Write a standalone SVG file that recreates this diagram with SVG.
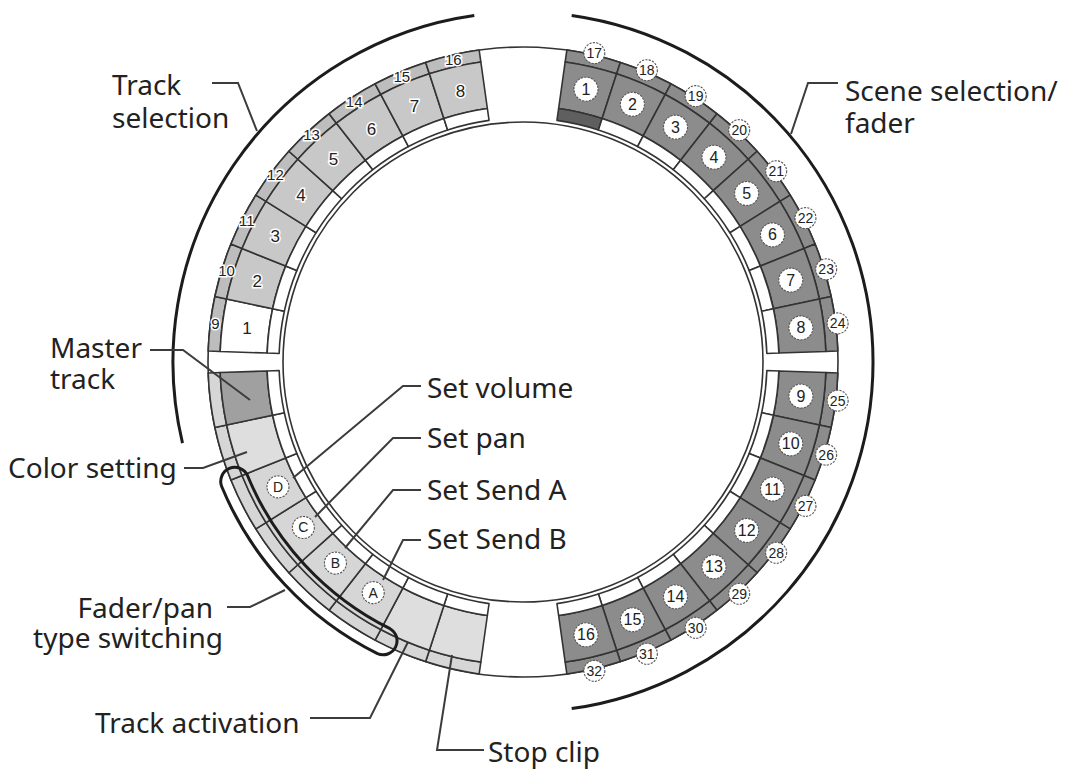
<svg xmlns="http://www.w3.org/2000/svg" xmlns:xlink="http://www.w3.org/1999/xlink" width="1070" height="771" viewBox="0 0 1070 771">
<style>
.pd{stroke:#333;stroke-width:1.6;stroke-linejoin:round}
.trk{fill:#c8c8c8}
.trs{fill:#bdbdbd}
.wh{fill:#fff}
.sc{fill:#8c8c8c}
.dk{fill:#5f5f5f}
.ms{fill:#a0a0a0}
.lt{fill:#d6d6d6}
.lt2{fill:#dedede}
.ln{fill:none;stroke:#333;stroke-width:1.6}
.brk{fill:none;stroke:#1c1c1c;stroke-width:3}
.lead{fill:none;stroke:#3c3c3c;stroke-width:2}
.cap{fill:none;stroke:#1c1c1c;stroke-width:3}
.lbl{font-family:"Noto Sans","Open Sans",sans-serif;font-size:28px;fill:#222}
.tn{font-family:"Liberation Sans",Arial,sans-serif;font-size:17px;fill:#222;text-anchor:middle;stroke:#fff;stroke-width:3;paint-order:stroke}
.tns{font-size:15px}
.cn{fill:#fff;stroke:#555;stroke-width:1.1;stroke-dasharray:2.2 1.2}
.ct{font-family:"Liberation Sans",Arial,sans-serif;font-size:16px;fill:#222;text-anchor:middle}
.cts{font-size:14px}
.cl{font-size:14px}
</style>
<defs>
<path id="padP" class="pd" d="M -26.41,-301.85 A 303 303 0 0 1 26.41,-301.85 L 22.31,-255.02 A 256 256 0 0 0 -22.31,-255.02 Z"/>
<path id="stripP" class="pd" d="M -27.45,-313.80 A 315 315 0 0 1 27.45,-313.80 L 26.41,-301.85 A 303 303 0 0 0 -26.41,-301.85 Z"/>
<path id="innerP" class="pd" d="M -22.31,-255.02 A 256 256 0 0 1 22.31,-255.02 L 21.27,-243.07 A 244 244 0 0 0 -21.27,-243.07 Z"/>
</defs>
<rect width="1070" height="771" fill="#fff"/>

<g id="ring-edges">
<circle cx="523" cy="362" r="315" class="ln"/>
<circle cx="523" cy="362" r="240" class="ln"/>
</g>

<!-- Scene pads -->
<g id="scene-1" transform="translate(523,362) rotate(13)"><use href="#stripP" class="sc"/><use href="#padP" class="sc"/><use href="#innerP" class="dk"/><g transform="translate(0,-280) rotate(-13)"><circle class="cn" r="12"/><text class="ct" y="5.5">1</text></g><g transform="translate(0,-317) rotate(-13)"><circle class="cn" r="10.5"/><text class="ct cts" y="5">17</text></g></g>
<g id="scene-2" transform="translate(523,362) rotate(23)"><use href="#stripP" class="sc"/><use href="#padP" class="sc"/><use href="#innerP" class="wh"/><g transform="translate(0,-280) rotate(-23)"><circle class="cn" r="12"/><text class="ct" y="5.5">2</text></g><g transform="translate(0,-317) rotate(-23)"><circle class="cn" r="10.5"/><text class="ct cts" y="5">18</text></g></g>
<g id="scene-3" transform="translate(523,362) rotate(33)"><use href="#stripP" class="sc"/><use href="#padP" class="sc"/><use href="#innerP" class="wh"/><g transform="translate(0,-280) rotate(-33)"><circle class="cn" r="12"/><text class="ct" y="5.5">3</text></g><g transform="translate(0,-317) rotate(-33)"><circle class="cn" r="10.5"/><text class="ct cts" y="5">19</text></g></g>
<g id="scene-4" transform="translate(523,362) rotate(43)"><use href="#stripP" class="sc"/><use href="#padP" class="sc"/><use href="#innerP" class="wh"/><g transform="translate(0,-280) rotate(-43)"><circle class="cn" r="12"/><text class="ct" y="5.5">4</text></g><g transform="translate(0,-317) rotate(-43)"><circle class="cn" r="10.5"/><text class="ct cts" y="5">20</text></g></g>
<g id="scene-5" transform="translate(523,362) rotate(53)"><use href="#stripP" class="sc"/><use href="#padP" class="sc"/><use href="#innerP" class="wh"/><g transform="translate(0,-280) rotate(-53)"><circle class="cn" r="12"/><text class="ct" y="5.5">5</text></g><g transform="translate(0,-317) rotate(-53)"><circle class="cn" r="10.5"/><text class="ct cts" y="5">21</text></g></g>
<g id="scene-6" transform="translate(523,362) rotate(63)"><use href="#stripP" class="sc"/><use href="#padP" class="sc"/><use href="#innerP" class="wh"/><g transform="translate(0,-280) rotate(-63)"><circle class="cn" r="12"/><text class="ct" y="5.5">6</text></g><g transform="translate(0,-317) rotate(-63)"><circle class="cn" r="10.5"/><text class="ct cts" y="5">22</text></g></g>
<g id="scene-7" transform="translate(523,362) rotate(73)"><use href="#stripP" class="sc"/><use href="#padP" class="sc"/><use href="#innerP" class="wh"/><g transform="translate(0,-280) rotate(-73)"><circle class="cn" r="12"/><text class="ct" y="5.5">7</text></g><g transform="translate(0,-317) rotate(-73)"><circle class="cn" r="10.5"/><text class="ct cts" y="5">23</text></g></g>
<g id="scene-8" transform="translate(523,362) rotate(83)"><use href="#stripP" class="sc"/><use href="#padP" class="sc"/><use href="#innerP" class="wh"/><g transform="translate(0,-280) rotate(-83)"><circle class="cn" r="12"/><text class="ct" y="5.5">8</text></g><g transform="translate(0,-317) rotate(-83)"><circle class="cn" r="10.5"/><text class="ct cts" y="5">24</text></g></g>
<g id="scene-9" transform="translate(523,362) rotate(97)"><use href="#stripP" class="sc"/><use href="#padP" class="sc"/><use href="#innerP" class="wh"/><g transform="translate(0,-280) rotate(-97)"><circle class="cn" r="12"/><text class="ct" y="5.5">9</text></g><g transform="translate(0,-317) rotate(-97)"><circle class="cn" r="10.5"/><text class="ct cts" y="5">25</text></g></g>
<g id="scene-10" transform="translate(523,362) rotate(107)"><use href="#stripP" class="sc"/><use href="#padP" class="sc"/><use href="#innerP" class="wh"/><g transform="translate(0,-280) rotate(-107)"><circle class="cn" r="12"/><text class="ct" y="5.5">10</text></g><g transform="translate(0,-317) rotate(-107)"><circle class="cn" r="10.5"/><text class="ct cts" y="5">26</text></g></g>
<g id="scene-11" transform="translate(523,362) rotate(117)"><use href="#stripP" class="sc"/><use href="#padP" class="sc"/><use href="#innerP" class="wh"/><g transform="translate(0,-280) rotate(-117)"><circle class="cn" r="12"/><text class="ct" y="5.5">11</text></g><g transform="translate(0,-317) rotate(-117)"><circle class="cn" r="10.5"/><text class="ct cts" y="5">27</text></g></g>
<g id="scene-12" transform="translate(523,362) rotate(127)"><use href="#stripP" class="sc"/><use href="#padP" class="sc"/><use href="#innerP" class="wh"/><g transform="translate(0,-280) rotate(-127)"><circle class="cn" r="12"/><text class="ct" y="5.5">12</text></g><g transform="translate(0,-317) rotate(-127)"><circle class="cn" r="10.5"/><text class="ct cts" y="5">28</text></g></g>
<g id="scene-13" transform="translate(523,362) rotate(137)"><use href="#stripP" class="sc"/><use href="#padP" class="sc"/><use href="#innerP" class="wh"/><g transform="translate(0,-280) rotate(-137)"><circle class="cn" r="12"/><text class="ct" y="5.5">13</text></g><g transform="translate(0,-317) rotate(-137)"><circle class="cn" r="10.5"/><text class="ct cts" y="5">29</text></g></g>
<g id="scene-14" transform="translate(523,362) rotate(147)"><use href="#stripP" class="sc"/><use href="#padP" class="sc"/><use href="#innerP" class="wh"/><g transform="translate(0,-280) rotate(-147)"><circle class="cn" r="12"/><text class="ct" y="5.5">14</text></g><g transform="translate(0,-317) rotate(-147)"><circle class="cn" r="10.5"/><text class="ct cts" y="5">30</text></g></g>
<g id="scene-15" transform="translate(523,362) rotate(157)"><use href="#stripP" class="sc"/><use href="#padP" class="sc"/><use href="#innerP" class="wh"/><g transform="translate(0,-280) rotate(-157)"><circle class="cn" r="12"/><text class="ct" y="5.5">15</text></g><g transform="translate(0,-317) rotate(-157)"><circle class="cn" r="10.5"/><text class="ct cts" y="5">31</text></g></g>
<g id="scene-16" transform="translate(523,362) rotate(167)"><use href="#stripP" class="sc"/><use href="#padP" class="sc"/><use href="#innerP" class="wh"/><g transform="translate(0,-280) rotate(-167)"><circle class="cn" r="12"/><text class="ct" y="5.5">16</text></g><g transform="translate(0,-317) rotate(-167)"><circle class="cn" r="10.5"/><text class="ct cts" y="5">32</text></g></g>

<!-- Lower-left function pads -->
<g id="stop-clip" transform="translate(523,362) rotate(193)"><use href="#stripP" class="lt"/><use href="#padP" class="lt2"/><use href="#innerP" class="wh"/></g>
<g id="track-activation" transform="translate(523,362) rotate(203)"><use href="#stripP" class="lt"/><use href="#padP" class="lt2"/><use href="#innerP" class="wh"/></g>
<g id="pad-A" transform="translate(523,362) rotate(213)"><use href="#stripP" class="lt"/><use href="#padP" class="lt"/><use href="#innerP" class="wh"/><g transform="translate(0,-275) rotate(-213)"><circle class="cn" r="11"/><text class="ct cl" y="5">A</text></g></g>
<g id="pad-B" transform="translate(523,362) rotate(223)"><use href="#stripP" class="lt"/><use href="#padP" class="lt"/><use href="#innerP" class="wh"/><g transform="translate(0,-275) rotate(-223)"><circle class="cn" r="11"/><text class="ct cl" y="5">B</text></g></g>
<g id="pad-C" transform="translate(523,362) rotate(233)"><use href="#stripP" class="lt"/><use href="#padP" class="lt"/><use href="#innerP" class="wh"/><g transform="translate(0,-275) rotate(-233)"><circle class="cn" r="11"/><text class="ct cl" y="5">C</text></g></g>
<g id="pad-D" transform="translate(523,362) rotate(243)"><use href="#stripP" class="lt"/><use href="#padP" class="lt"/><use href="#innerP" class="wh"/><g transform="translate(0,-275) rotate(-243)"><circle class="cn" r="11"/><text class="ct cl" y="5">D</text></g></g>
<g id="color-setting" transform="translate(523,362) rotate(253)"><use href="#stripP" class="lt"/><use href="#padP" class="lt2"/><use href="#innerP" class="wh"/></g>
<g id="master-track" transform="translate(523,362) rotate(263)"><use href="#stripP" class="lt"/><use href="#padP" class="ms"/><use href="#innerP" class="wh"/></g>

<!-- Track pads -->
<g id="track-1" transform="translate(523,362) rotate(277)"><use href="#stripP" class="trs"/><use href="#padP" class="wh"/><use href="#innerP" class="wh"/><g transform="translate(0,-278) rotate(-277)"><text class="tn" y="6">1</text></g><g transform="translate(0,-310) rotate(-277)"><text class="tn tns" y="5">9</text></g></g>
<g id="track-2" transform="translate(523,362) rotate(287)"><use href="#stripP" class="trs"/><use href="#padP" class="trk"/><use href="#innerP" class="wh"/><g transform="translate(0,-278) rotate(-287)"><text class="tn" y="6">2</text></g><g transform="translate(0,-310) rotate(-287)"><text class="tn tns" y="5">10</text></g></g>
<g id="track-3" transform="translate(523,362) rotate(297)"><use href="#stripP" class="trs"/><use href="#padP" class="trk"/><use href="#innerP" class="wh"/><g transform="translate(0,-278) rotate(-297)"><text class="tn" y="6">3</text></g><g transform="translate(0,-310) rotate(-297)"><text class="tn tns" y="5">11</text></g></g>
<g id="track-4" transform="translate(523,362) rotate(307)"><use href="#stripP" class="trs"/><use href="#padP" class="trk"/><use href="#innerP" class="wh"/><g transform="translate(0,-278) rotate(-307)"><text class="tn" y="6">4</text></g><g transform="translate(0,-310) rotate(-307)"><text class="tn tns" y="5">12</text></g></g>
<g id="track-5" transform="translate(523,362) rotate(317)"><use href="#stripP" class="trs"/><use href="#padP" class="trk"/><use href="#innerP" class="wh"/><g transform="translate(0,-278) rotate(-317)"><text class="tn" y="6">5</text></g><g transform="translate(0,-310) rotate(-317)"><text class="tn tns" y="5">13</text></g></g>
<g id="track-6" transform="translate(523,362) rotate(327)"><use href="#stripP" class="trs"/><use href="#padP" class="trk"/><use href="#innerP" class="wh"/><g transform="translate(0,-278) rotate(-327)"><text class="tn" y="6">6</text></g><g transform="translate(0,-310) rotate(-327)"><text class="tn tns" y="5">14</text></g></g>
<g id="track-7" transform="translate(523,362) rotate(337)"><use href="#stripP" class="trs"/><use href="#padP" class="trk"/><use href="#innerP" class="wh"/><g transform="translate(0,-278) rotate(-337)"><text class="tn" y="6">7</text></g><g transform="translate(0,-310) rotate(-337)"><text class="tn tns" y="5">15</text></g></g>
<g id="track-8" transform="translate(523,362) rotate(347)"><use href="#stripP" class="trs"/><use href="#padP" class="trk"/><use href="#innerP" class="wh"/><g transform="translate(0,-278) rotate(-347)"><text class="tn" y="6">8</text></g><g transform="translate(0,-310) rotate(-347)"><text class="tn tns" y="5">16</text></g></g>

<g id="fader-pan-capsule">
<path class="cap" d="M 221.8,486.8 A 326 326 0 0 0 377.5,653.7 A 14 14 0 0 0 390.0,628.7 A 298 298 0 0 1 247.7,476.0 A 14 14 0 0 0 221.8,486.8 Z"/>
</g>

<g id="brackets">
<path class="brk" d="M 182.5,443.1 A 350 350 0 0 1 474.3,15.4"/>
<path class="brk" d="M 571.7,15.4 A 350 350 0 0 1 571.7,708.6"/>
</g>

<g id="connectors">
<path class="lead" d="M 212,83 H 238 L 257,131"/>
<path class="lead" d="M 838,83 H 808 L 791,134"/>
<path class="lead" d="M 150,350 H 183 L 250,400"/>
<path class="lead" d="M 184,468 H 203 L 247,452"/>
<path class="lead" d="M 421,386 H 403 L 293,478"/>
<path class="lead" d="M 421,438 H 393 L 315,517"/>
<path class="lead" d="M 421,490 H 393 L 345,548"/>
<path class="lead" d="M 421,540 H 403 L 383,580"/>
<path class="lead" d="M 227,607 H 250 L 285,590"/>
<path class="lead" d="M 310,718 H 370 L 408,642"/>
<path class="lead" d="M 484,750 H 437 L 452,655"/>
</g>

<g id="labels">
<text class="lbl" x="112" y="95">Track</text>
<text class="lbl" x="112" y="128">selection</text>
<text class="lbl" x="845" y="101">Scene selection/</text>
<text class="lbl" x="845" y="133">fader</text>
<text class="lbl" x="50" y="358">Master</text>
<text class="lbl" x="50" y="389">track</text>
<text class="lbl" x="8" y="478">Color setting</text>
<text class="lbl" x="427" y="398">Set volume</text>
<text class="lbl" x="427" y="448">Set pan</text>
<text class="lbl" x="427" y="500">Set Send A</text>
<text class="lbl" x="427" y="549">Set Send B</text>
<text class="lbl" x="213" y="618" text-anchor="end">Fader/pan</text>
<text class="lbl" x="223" y="648" text-anchor="end">type switching</text>
<text class="lbl" x="95" y="733">Track activation</text>
<text class="lbl" x="488" y="762">Stop clip</text>
</g>
</svg>
